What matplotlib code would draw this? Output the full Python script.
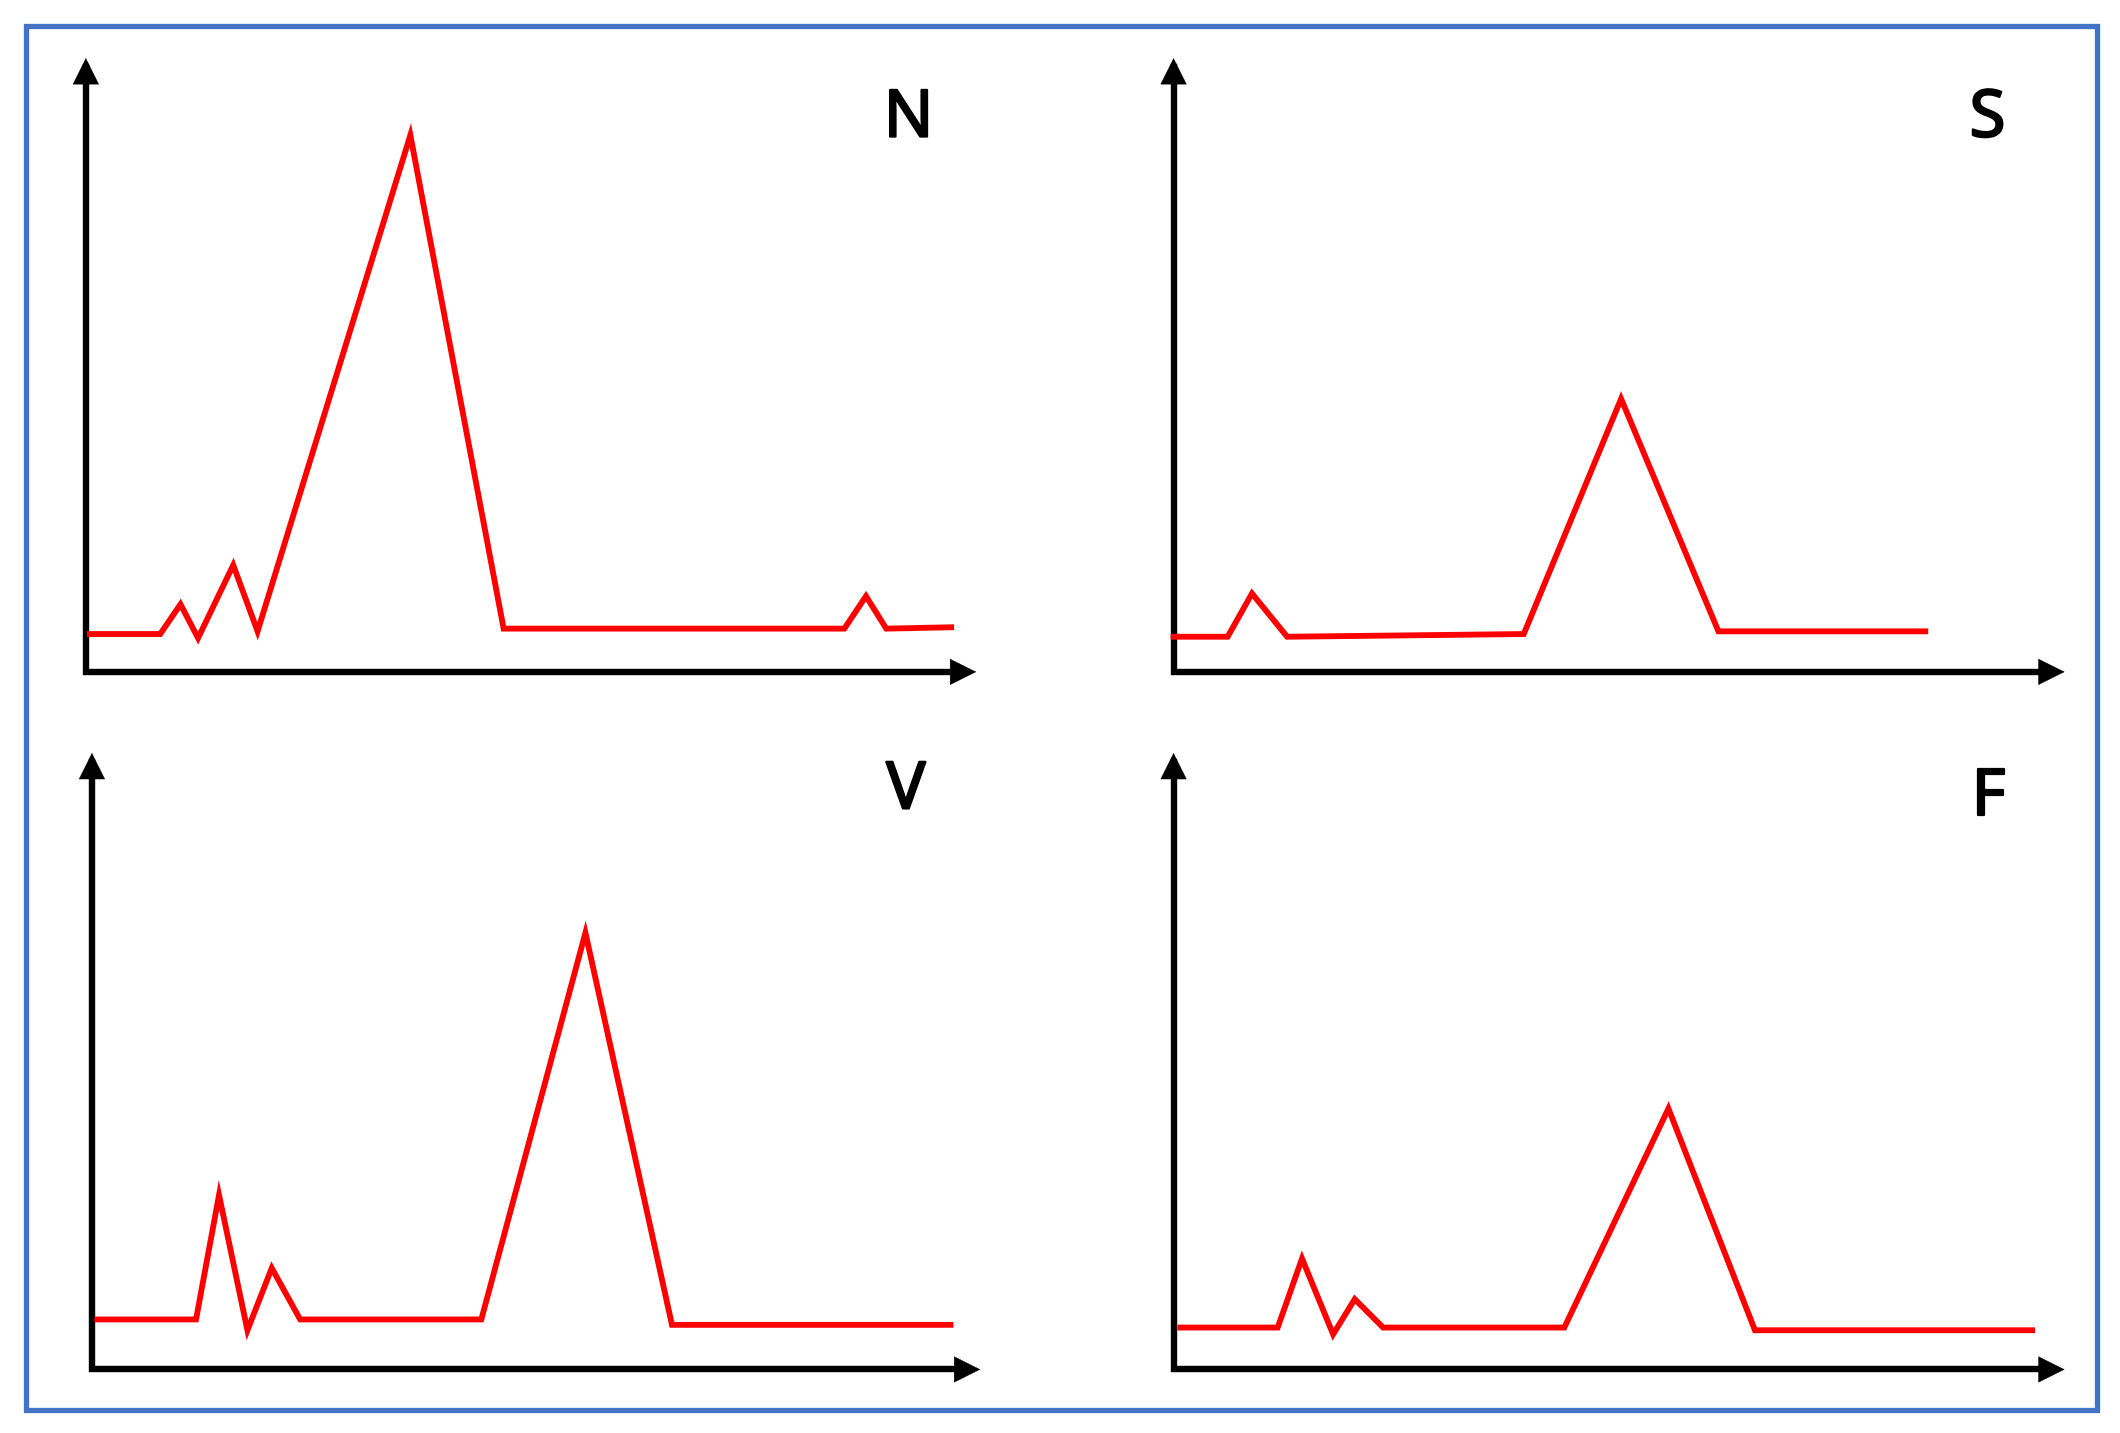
import matplotlib.pyplot as plt
import matplotlib.patheffects as pe
from matplotlib.patches import Rectangle

# heartbeat classes, one sketch per panel
labels = ["N", "S", "V", "F"]

# polyline points for each panel (x: time, y: amplitude)
n_x = [3, 55, 70, 83, 109, 127, 240, 309, 561, 577, 592, 640]
n_y = [28, 28, 50, 25, 79, 30, 397, 32, 32, 56, 32, 33]

s_x = [0, 40, 58, 84, 259, 331, 403, 556]
s_y = [26, 26, 58, 26, 28, 202, 30, 30]

v_x = [4, 77, 94, 115, 133, 154, 288, 365, 429, 635]
v_y = [37, 37, 129, 29, 75, 37, 37, 323, 33, 33]

f_x = [5, 77, 95, 118, 134, 155, 289, 366, 430, 635]
f_y = [31, 31, 82, 26, 52, 31, 31, 193, 29, 29]

series = [(n_x, n_y), (s_x, s_y), (v_x, v_y), (f_x, f_y)]

# layout in pixels of the 1568x1060 view: origin x, origin y, x arrow tip, y arrow tip
W, H = 1568.0, 1060.0
boxes = [(63.5, 497, 722, 43), (868, 497, 1527, 43),
         (68, 1013, 725, 557), (868, 1013, 1527, 557)]
# label positions (center x, baseline y) in the same pixels
label_pos = [(672, 101), (1470, 101), (670, 598), (1471, 603)]

fig = plt.figure(figsize=(21.2, 14.33), dpi=100)

# blue frame around everything
fig.patches.append(Rectangle((25.5 / 2120, 1 - 1410 / 1433), (2097 - 25.5) / 2120,
                             (1410 - 25.5) / 1433, transform=fig.transFigure,
                             fill=False, edgecolor="#4472C4", linewidth=3.8))

for (x, y), (x0, y0, xt, yt), lab, (lx, ly) in zip(series, boxes, labels, label_pos):
    ax = fig.add_axes([x0 / W, 1 - y0 / H, (xt - x0) / W, (y0 - yt) / H])
    ax.set_xlim(0, xt - x0)
    ax.set_ylim(0, y0 - yt)
    ax.axis("off")

    # axes lines, then sharp arrow heads at the tips
    ax.plot([0, 0, 0.985], [0.985, 0, 0], color="black", lw=4.6,
            transform=ax.transAxes, clip_on=False, solid_joinstyle="miter",
            solid_capstyle="projecting")
    ax.annotate("", xy=(1, 0), xytext=(0.95, 0), xycoords="axes fraction",
                arrowprops=dict(arrowstyle="-|>", color="black", lw=0.3,
                                mutation_scale=46, shrinkA=0, shrinkB=0))
    ax.annotate("", xy=(0, 1), xytext=(0, 0.95), xycoords="axes fraction",
                arrowprops=dict(arrowstyle="-|>", color="black", lw=0.3,
                                mutation_scale=46, shrinkA=0, shrinkB=0))

    ax.plot(x, y, color="#FF0000", lw=4.2, solid_joinstyle="miter", clip_on=False)

    fig.text(lx / W, 1 - ly / H, lab, ha="center", va="baseline",
             fontsize=47, family="Noto Sans", color="black",
             path_effects=[pe.withStroke(linewidth=1.6, foreground="black")])

fig.savefig("out.png", dpi=100)
